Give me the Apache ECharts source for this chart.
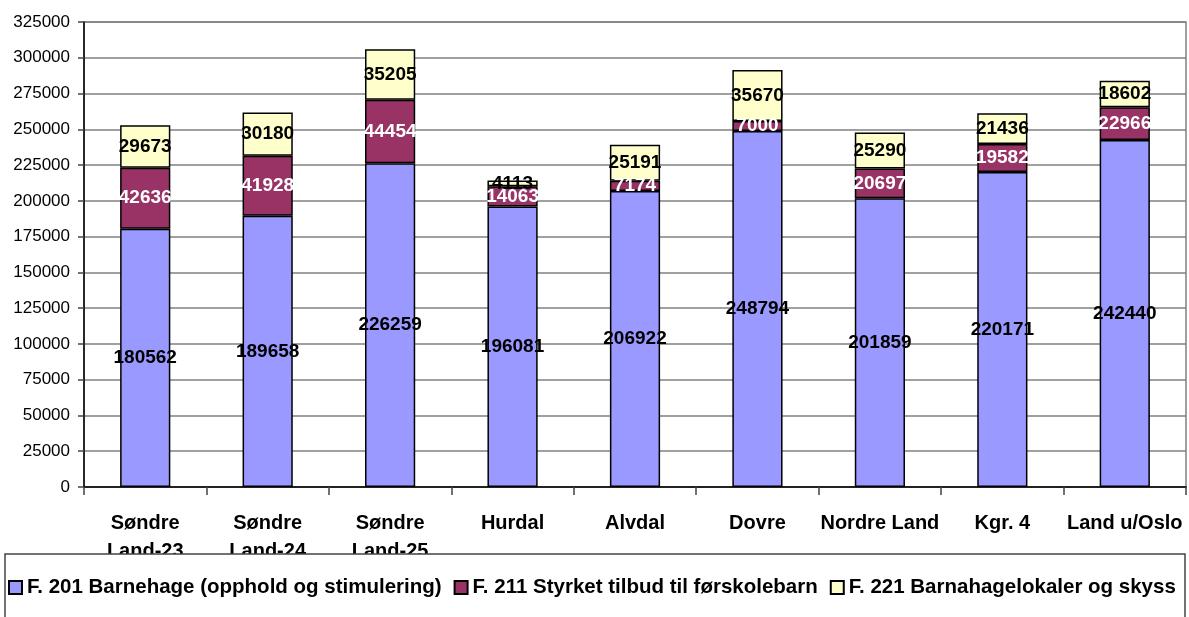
<!DOCTYPE html>
<html>
<head>
<meta charset="utf-8">
<script src="https://cdn.jsdelivr.net/npm/echarts@6/dist/echarts.min.js"></script>
<style>html,body{margin:0;padding:0;background:#fff}#c{width:1189px;height:617px}</style>
</head>
<body>
<div id="c"></div>
<script>
const categories = ['Søndre\nLand-23', 'Søndre\nLand-24', 'Søndre\nLand-25', 'Hurdal', 'Alvdal', 'Dovre', 'Nordre Land', 'Kgr. 4', 'Land u/Oslo'];
const seriesNames = ['F. 201 Barnehage (opphold og stimulering)', 'F. 211 Styrket tilbud til førskolebarn', 'F. 221 Barnahagelokaler og skyss'];
const f201 = [180562, 189658, 226259, 196081, 206922, 248794, 201859, 220171, 242440];
const f211 = [42636, 41928, 44454, 14063, 7174, 7000, 20697, 19582, 22966];
const f221 = [29673, 30180, 35205, 4113, 25191, 35670, 25290, 21436, 18602];
const yMin = 0, yMax = 325000, yStep = 25000;

const FONT = "'Liberation Sans', Arial, sans-serif";
const colors = ['#9999FF', '#993366', '#FFFFCC'];
const labelColors = ['#000', '#fff', '#000'];
const datas = [f201, f211, f221];

const chart = echarts.init(document.getElementById('c'), null, {renderer: 'canvas'});
chart.setOption({
  animation: false,
  backgroundColor: '#fff',
  grid: {left: 84, right: 3, top: 22, bottom: 130, show: true, borderColor: '#808080', borderWidth: 1.5, backgroundColor: 'transparent'},
  xAxis: {
    type: 'category', data: categories,
    axisLine: {lineStyle: {color: '#000', width: 1.5}},
    axisTick: {show: true, length: 8, lineStyle: {color: '#444', width: 1.5}},
    axisLabel: {color: '#000', fontFamily: FONT, fontWeight: 'bold', fontSize: 20, margin: 22, lineHeight: 28, interval: 0}
  },
  yAxis: {
    type: 'value', min: yMin, max: yMax, interval: yStep,
    axisLine: {show: true, lineStyle: {color: '#000', width: 1.5}},
    axisTick: {show: true, length: 6, lineStyle: {color: '#444', width: 1.5}},
    axisLabel: {color: '#000', fontFamily: FONT, fontSize: 17, margin: 14, formatter: v => String(v)},
    splitLine: {lineStyle: {color: '#808080', width: 1.5}}
  },
  legend: {
    left: 8, top: 577, width: 1181, z: 20, padding: 0,
    itemWidth: 13, itemHeight: 13, itemGap: 12,
    icon: 'rect',
    textStyle: {color: '#000', fontFamily: FONT, fontWeight: 'bold', fontSize: 20.5},
    data: seriesNames
  },
  graphic: [{
    type: 'rect', z: 15, silent: true,
    shape: {x: 5, y: 554, width: 1180, height: 80},
    style: {fill: '#fff', stroke: '#444', lineWidth: 1.5}
  }],
  series: seriesNames.map((name, i) => ({
    name, type: 'bar', stack: 'total', barWidth: '41%',
    data: datas[i],
    itemStyle: {color: colors[i], borderColor: '#000', borderWidth: 1.5},
    label: {show: true, position: 'inside', color: labelColors[i], fontFamily: FONT, fontWeight: 'bold', fontSize: 19}
  }))
});
</script>
</body>
</html>
